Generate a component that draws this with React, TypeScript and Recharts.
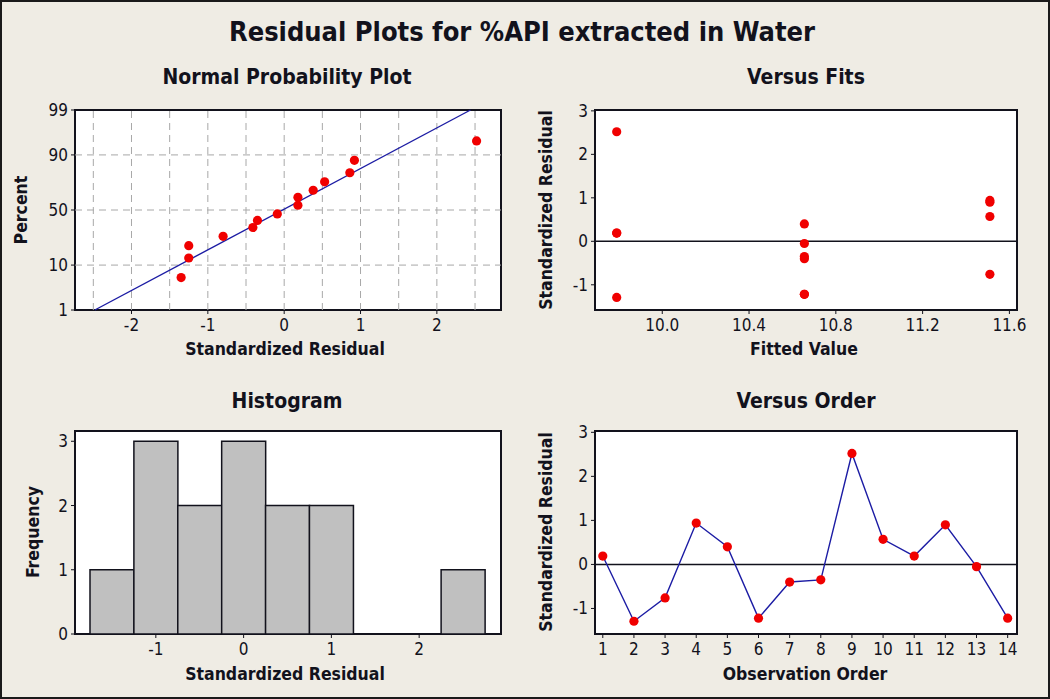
import React from 'react';
import {
  ScatterChart, Scatter, LineChart, Line, BarChart, Bar, XAxis, YAxis,
  ReferenceLine,
} from 'recharts';

const observation = [1, 2, 3, 4, 5, 6, 7, 8, 9, 10, 11, 12, 13, 14];
const residuals = [0.19, -1.29, -0.76, 0.94, 0.40, -1.22, -0.40, -0.35, 2.52, 0.57, 0.19, 0.90, -0.05, -1.22];
const fitted = [9.79, 9.79, 11.51, 11.51, 10.655, 10.655, 10.655, 10.655, 9.79, 11.51, 9.79, 11.51, 10.655, 10.655];

// normal probability plot points
const nppResidual = [-1.35, -1.25, -1.25, -0.80, -0.41, -0.35, -0.09, 0.18, 0.18, 0.38, 0.53, 0.86, 0.92, 2.52];
const nppPercent = [5.8, 13.2, 20.3, 27, 34.2, 40.4, 46.4, 54.5, 61.6, 67.7, 74.4, 80.7, 87.6, 94.6];
const fitResidual = [-2.48, 2.44];
const fitPercent = [1, 99];
const percentTicks = [1, 10, 50, 90, 99];
const percentGrid = [10, 50, 90];
const nppXTicks = [-2, -1, 0, 1, 2];
const nppXGrid = [-2.5, -2, -1.5, -1, -0.5, 0, 0.5, 1, 1.5, 2, 2.5];

// histogram
const binMid = [-1.5, -1, -0.5, 0, 0.5, 1, 1.5, 2, 2.5];
const frequency = [1, 3, 2, 3, 2, 2, 0, 0, 1];
const histXTicks = [-1, 0, 1, 2];
const freqTicks = [0, 1, 2, 3];

const fitTicks = [10.0, 10.4, 10.8, 11.2, 11.6];
const residTicks = [-1, 0, 1, 2, 3];

const FONT = "'DejaVu Sans Condensed', 'Liberation Sans', Arial, sans-serif";
const INK = '#12121c';
const BG = '#efece4';
const RED = '#f00000';
const BLUE = '#1c1ca4';
const TICK_SIZE = 4;
const TICK_MARGIN = 5;

// inverse normal CDF (Acklam) - used as the probability axis transform
function probit(p: number): number {
  const a = [-39.6968302866538, 220.946098424521, -275.928510446969, 138.357751867269, -30.6647980661472, 2.50662827745924];
  const b = [-54.4760987982241, 161.585836858041, -155.698979859887, 66.8013118877197, -13.2806815528857];
  const c = [-0.00778489400243029, -0.322396458041136, -2.40075827716184, -2.54973253934373, 4.37466414146497, 2.93816398269878];
  const d = [0.00778469570904146, 0.32246712907004, 2.445134137143, 3.75440866190742];
  const pl = 0.02425;
  if (p < pl) {
    const q = Math.sqrt(-2 * Math.log(p));
    return (((((c[0] * q + c[1]) * q + c[2]) * q + c[3]) * q + c[4]) * q + c[5]) / ((((d[0] * q + d[1]) * q + d[2]) * q + d[3]) * q + 1);
  }
  if (p > 1 - pl) {
    const q = Math.sqrt(-2 * Math.log(1 - p));
    return -(((((c[0] * q + c[1]) * q + c[2]) * q + c[3]) * q + c[4]) * q + c[5]) / ((((d[0] * q + d[1]) * q + d[2]) * q + d[3]) * q + 1);
  }
  const q = p - 0.5;
  const r = q * q;
  return (((((a[0] * r + a[1]) * r + a[2]) * r + a[3]) * r + a[4]) * r + a[5]) * q / (((((b[0] * r + b[1]) * r + b[2]) * r + b[3]) * r + b[4]) * r + 1);
}

const zTop = probit(0.99);

const nppData = nppResidual.map((r, i) => ({ x: r, z: probit(nppPercent[i] / 100) }));
const fitsData = residuals.map((r, i) => ({ fit: fitted[i], res: r }));
const orderData = residuals.map((r, i) => ({ order: observation[i], res: r }));
const histData = binMid.map((m, i) => ({ mid: m, count: frequency[i] }));

const tickStyle = { fontSize: 17, fill: INK, fontFamily: FONT };

const dot = (p: any) => <circle key={p.index} cx={p.cx} cy={p.cy} r={4.6} fill={RED} />;

// histogram axis: only integer bin centres get a tick and a label
const HistTick = (p: any) => {
  const v = Number(p.payload.value);
  if (!histXTicks.includes(v)) return <g />;
  const top = p.y - TICK_MARGIN - TICK_SIZE;
  return (
    <g>
      <line x1={p.x} x2={p.x} y1={top} y2={top + TICK_SIZE} stroke={INK} />
      <text x={p.x} y={p.y} dy="0.71em" textAnchor="middle" {...tickStyle}>{v}</text>
    </g>
  );
};

type Rect = { left: number; top: number; right: number; bottom: number };

// container box + plot rect -> recharts margins (y axis width 40, x axis height 30)
function marginsFor(box: Rect, plot: Rect) {
  return {
    left: plot.left - box.left - 40,
    top: plot.top - box.top,
    right: box.right - plot.right,
    bottom: box.bottom - plot.bottom - 30,
  };
}

const Frame: React.FC<{ plot: Rect }> = ({ plot }) => (
  <div
    style={{
      position: 'absolute',
      left: plot.left - 1,
      top: plot.top - 1,
      width: plot.right - plot.left + 2,
      height: plot.bottom - plot.top + 2,
      border: `2px solid ${INK}`,
      boxSizing: 'border-box',
      background: '#fff',
    }}
  />
);

const Text: React.FC<{ x: number; y: number; size: number; rotate?: boolean; children: React.ReactNode }> = ({ x, y, size, rotate, children }) => (
  <div
    style={{
      position: 'absolute',
      left: x,
      top: y,
      transform: `translate(-50%, -50%)${rotate ? ' rotate(-90deg)' : ''}`,
      fontFamily: FONT,
      fontWeight: 'bold',
      fontSize: size,
      color: INK,
      whiteSpace: 'nowrap',
      lineHeight: 1,
    }}
  >
    {children}
  </div>
);

const Panel: React.FC<{ box: Rect; children: React.ReactNode }> = ({ box, children }) => (
  <div style={{ position: 'absolute', left: box.left, top: box.top }}>{children}</div>
);

const box1: Rect = { left: 0, top: 60, right: 520, bottom: 380 };
const plot1: Rect = { left: 75, top: 110, right: 501, bottom: 310 };
const box2: Rect = { left: 520, top: 60, right: 1050, bottom: 380 };
const plot2: Rect = { left: 595, top: 110, right: 1017, bottom: 310 };
const box3: Rect = { left: 0, top: 380, right: 520, bottom: 699 };
const plot3: Rect = { left: 75, top: 431, right: 501, bottom: 634 };
const box4: Rect = { left: 520, top: 380, right: 1050, bottom: 699 };
const plot4: Rect = { left: 595, top: 431, right: 1017, bottom: 634 };

const w = (b: Rect) => b.right - b.left;
const h = (b: Rect) => b.bottom - b.top;

const axisCommon = {
  axisLine: false,
  tickLine: { stroke: INK },
  tickSize: TICK_SIZE,
  tick: tickStyle,
};

export default function App() {
  return (
    <div
      style={{
        position: 'absolute',
        left: 0,
        top: 0,
        width: 1050,
        height: 699,
        background: BG,
        border: '2px solid #1a1a1a',
        boxSizing: 'border-box',
        overflow: 'hidden',
      }}
    >
      <div style={{ position: 'absolute', left: -2, top: -2, width: 1050, height: 699 }}>
        <Text x={522} y={31} size={27}>Residual Plots for %API extracted in Water</Text>
        <Text x={287} y={77} size={21}>Normal Probability Plot</Text>
        <Text x={806} y={77} size={21}>Versus Fits</Text>
        <Text x={287} y={401} size={21}>Histogram</Text>
        <Text x={806} y={401} size={21}>Versus Order</Text>

        <Frame plot={plot1} />
        <Frame plot={plot2} />
        <Frame plot={plot3} />
        <Frame plot={plot4} />

        {/* Normal probability plot */}
        <Panel box={box1}>
          <ScatterChart width={w(box1)} height={h(box1)} margin={marginsFor(box1, plot1)}>
            <XAxis
              type="number" dataKey="x" domain={[-2.74, 2.84]} ticks={nppXTicks}
              height={30} tickMargin={TICK_MARGIN} {...axisCommon}
            />
            <YAxis
              type="number" dataKey="z" domain={[-zTop, zTop]} ticks={percentTicks.map((p) => probit(p / 100))}
              width={40} tickMargin={3} {...axisCommon}
              tickFormatter={(v: number) => {
                const i = percentTicks.findIndex((p) => Math.abs(probit(p / 100) - v) < 1e-6);
                return i >= 0 ? String(percentTicks[i]) : '';
              }}
            />
            {nppXGrid.map((g) => (
              <ReferenceLine key={'gx' + g} x={g} stroke="#a8a8a8" strokeDasharray="7 5" />
            ))}
            {percentGrid.map((p) => (
              <ReferenceLine key={'gy' + p} y={probit(p / 100)} stroke="#a8a8a8" strokeDasharray="7 5" />
            ))}
            <ReferenceLine
              segment={[
                { x: fitResidual[0], y: probit(fitPercent[0] / 100) },
                { x: fitResidual[1], y: probit(fitPercent[1] / 100) },
              ]}
              stroke={BLUE}
              strokeWidth={1.4}
            />
            <Scatter data={nppData} fill={RED} shape={dot} isAnimationActive={false} />
          </ScatterChart>
        </Panel>

        {/* Versus fits */}
        <Panel box={box2}>
          <ScatterChart width={w(box2)} height={h(box2)} margin={marginsFor(box2, plot2)}>
            <XAxis
              type="number" dataKey="fit" domain={[9.69, 11.635]} ticks={fitTicks}
              tickFormatter={(v: number) => v.toFixed(1)}
              height={30} tickMargin={TICK_MARGIN} {...axisCommon}
            />
            <YAxis
              type="number" dataKey="res" domain={[-1.58, 3.02]} ticks={residTicks}
              width={40} tickMargin={3} {...axisCommon}
            />
            <ReferenceLine y={0} stroke={INK} strokeWidth={1.5} />
            <Scatter data={fitsData} fill={RED} shape={dot} isAnimationActive={false} />
          </ScatterChart>
        </Panel>

        {/* Histogram */}
        <Panel box={box3}>
          <BarChart
            width={w(box3)} height={h(box3)} margin={marginsFor(box3, plot3)}
            data={histData} barCategoryGap={0} barGap={0}
          >
            <XAxis
              dataKey="mid" padding={{ left: 15, right: 16 }} interval={0}
              axisLine={false} tickLine={false} tickSize={TICK_SIZE} tickMargin={TICK_MARGIN}
              height={30} tick={HistTick}
            />
            <YAxis
              type="number" domain={[0, 3.16]} ticks={freqTicks}
              width={40} tickMargin={3} {...axisCommon}
            />
            <Bar dataKey="count" fill="#c0c0c0" stroke={INK} strokeWidth={1.5} isAnimationActive={false} />
          </BarChart>
        </Panel>

        {/* Versus order */}
        <Panel box={box4}>
          <LineChart width={w(box4)} height={h(box4)} margin={marginsFor(box4, plot4)} data={orderData}>
            <XAxis
              type="number" dataKey="order" domain={[0.75, 14.3]} ticks={observation}
              height={30} tickMargin={TICK_MARGIN} {...axisCommon}
            />
            <YAxis
              type="number" domain={[-1.58, 3.03]} ticks={residTicks}
              width={40} tickMargin={3} {...axisCommon}
            />
            <ReferenceLine y={0} stroke={INK} strokeWidth={1.5} />
            <Line
              dataKey="res" stroke={BLUE} strokeWidth={1.4} dot={dot}
              activeDot={false} isAnimationActive={false}
            />
          </LineChart>
        </Panel>

        <Text x={285} y={350} size={17.5}>Standardized Residual</Text>
        <Text x={804} y={350} size={17.5}>Fitted Value</Text>
        <Text x={285} y={675} size={17.5}>Standardized Residual</Text>
        <Text x={805} y={675} size={17.5}>Observation Order</Text>
        <Text x={22} y={210} size={17.5} rotate>Percent</Text>
        <Text x={547} y={210} size={17.5} rotate>Standardized Residual</Text>
        <Text x={34} y={532} size={17.5} rotate>Frequency</Text>
        <Text x={547} y={532} size={17.5} rotate>Standardized Residual</Text>
      </div>
    </div>
  );
}
